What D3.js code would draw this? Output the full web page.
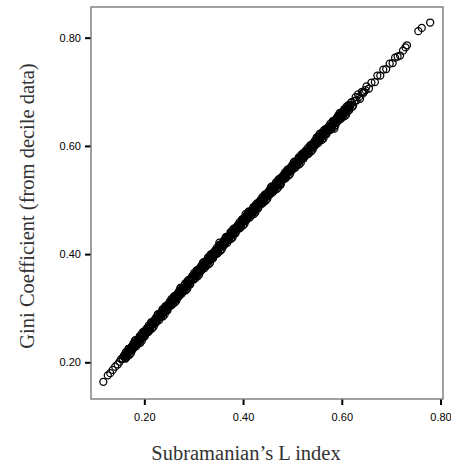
<!DOCTYPE html>
<html>
<head>
<meta charset="utf-8">
<script src="https://cdn.jsdelivr.net/npm/d3@7"></script>
<style>
  body { margin: 0; background: #fff; }
  .tick text { font-family: "Liberation Sans", Arial, sans-serif; font-size: 11px; fill: #000; }
  .title { font-family: "Liberation Serif", "Times New Roman", serif; font-size: 20.5px; fill: #333; }
</style>
</head>
<body>
<div id="chart"></div>
<script>
// dimensions and margins of the graph
var margin = { top: 7, right: 8, bottom: 71, left: 91 },
    width = 451 - margin.left - margin.right,
    height = 470 - margin.top - margin.bottom;

// tick values on both axes
var xTicks = [0.20, 0.40, 0.60, 0.80];
var yTicks = [0.20, 0.40, 0.60, 0.80];

// [Subramanian's L index, Gini coefficient from decile data]
var lowTail = [
  [0.117, 0.164], [0.126, 0.176], [0.131, 0.180], [0.136, 0.186], [0.141, 0.192],
  [0.146, 0.196], [0.150, 0.201], [0.153, 0.206], [0.156, 0.207], [0.158, 0.211]
];

var mainBand = [
  [0.160, 0.214], [0.162, 0.207], [0.164, 0.216], [0.166, 0.215], [0.168, 0.225],
  [0.170, 0.214], [0.172, 0.226], [0.174, 0.225], [0.176, 0.223], [0.178, 0.235],
  [0.180, 0.231], [0.182, 0.241], [0.184, 0.230], [0.186, 0.240], [0.188, 0.237],
  [0.190, 0.246], [0.192, 0.236], [0.194, 0.247], [0.196, 0.255], [0.198, 0.249],
  [0.200, 0.248], [0.202, 0.258], [0.204, 0.257], [0.206, 0.263], [0.208, 0.256],
  [0.210, 0.264], [0.212, 0.263], [0.214, 0.274], [0.216, 0.263], [0.218, 0.275],
  [0.220, 0.274], [0.222, 0.272], [0.224, 0.283], [0.226, 0.279], [0.228, 0.289],
  [0.230, 0.278], [0.232, 0.289], [0.234, 0.285], [0.236, 0.295], [0.238, 0.285],
  [0.240, 0.296], [0.242, 0.303], [0.244, 0.297], [0.246, 0.296], [0.248, 0.306],
  [0.250, 0.306], [0.252, 0.312], [0.254, 0.305], [0.256, 0.313], [0.258, 0.312],
  [0.260, 0.322], [0.262, 0.311], [0.264, 0.323], [0.266, 0.322], [0.268, 0.320],
  [0.270, 0.331], [0.272, 0.327], [0.274, 0.338], [0.276, 0.327], [0.278, 0.337],
  [0.280, 0.334], [0.282, 0.343], [0.284, 0.333], [0.286, 0.344], [0.288, 0.351],
  [0.290, 0.345], [0.292, 0.344], [0.294, 0.354], [0.296, 0.353], [0.298, 0.360],
  [0.300, 0.353], [0.302, 0.361], [0.304, 0.360], [0.306, 0.370], [0.308, 0.359],
  [0.310, 0.371], [0.312, 0.370], [0.314, 0.368], [0.316, 0.379], [0.318, 0.375],
  [0.320, 0.385], [0.322, 0.374], [0.324, 0.385], [0.326, 0.382], [0.328, 0.391],
  [0.330, 0.381], [0.332, 0.392], [0.334, 0.399], [0.336, 0.393], [0.338, 0.392],
  [0.340, 0.402], [0.342, 0.401], [0.344, 0.407], [0.346, 0.400], [0.348, 0.408],
  [0.350, 0.407], [0.352, 0.417], [0.354, 0.406], [0.356, 0.418], [0.358, 0.417],
  [0.360, 0.415], [0.362, 0.426], [0.364, 0.422], [0.366, 0.432], [0.368, 0.421],
  [0.370, 0.432], [0.372, 0.428], [0.374, 0.438], [0.376, 0.428], [0.378, 0.439],
  [0.380, 0.446], [0.382, 0.440], [0.384, 0.439], [0.386, 0.449], [0.388, 0.448],
  [0.390, 0.454], [0.392, 0.447], [0.394, 0.455], [0.396, 0.454], [0.398, 0.464],
  [0.400, 0.453], [0.402, 0.465], [0.404, 0.464], [0.406, 0.462], [0.408, 0.473],
  [0.410, 0.469], [0.412, 0.479], [0.414, 0.468], [0.416, 0.478], [0.418, 0.475],
  [0.420, 0.484], [0.422, 0.474], [0.424, 0.485], [0.426, 0.492], [0.428, 0.486],
  [0.430, 0.485], [0.432, 0.495], [0.434, 0.494], [0.436, 0.500], [0.438, 0.493],
  [0.440, 0.501], [0.442, 0.500], [0.444, 0.510], [0.446, 0.499], [0.448, 0.511],
  [0.450, 0.510], [0.452, 0.508], [0.454, 0.519], [0.456, 0.515], [0.458, 0.525],
  [0.460, 0.514], [0.462, 0.524], [0.464, 0.521], [0.466, 0.530], [0.468, 0.520],
  [0.470, 0.531], [0.472, 0.538], [0.474, 0.532], [0.476, 0.531], [0.478, 0.541],
  [0.480, 0.540], [0.482, 0.546], [0.484, 0.539], [0.486, 0.547], [0.488, 0.546],
  [0.490, 0.556], [0.492, 0.545], [0.494, 0.557], [0.496, 0.556], [0.498, 0.554],
  [0.500, 0.565], [0.502, 0.561], [0.504, 0.571], [0.506, 0.560], [0.508, 0.570],
  [0.510, 0.567], [0.512, 0.576], [0.514, 0.566], [0.516, 0.577], [0.518, 0.584],
  [0.520, 0.578], [0.522, 0.577], [0.524, 0.587], [0.526, 0.586], [0.528, 0.591],
  [0.530, 0.584], [0.532, 0.592], [0.534, 0.591], [0.536, 0.601], [0.538, 0.590],
  [0.540, 0.602], [0.542, 0.601], [0.544, 0.599], [0.546, 0.610], [0.548, 0.606],
  [0.550, 0.616], [0.552, 0.605], [0.554, 0.615], [0.556, 0.612], [0.558, 0.621],
  [0.560, 0.611], [0.562, 0.622], [0.564, 0.629], [0.566, 0.622], [0.568, 0.622],
  [0.570, 0.632], [0.572, 0.630], [0.574, 0.636], [0.576, 0.629], [0.578, 0.637],
  [0.580, 0.636], [0.582, 0.646], [0.584, 0.635], [0.586, 0.647], [0.588, 0.646],
  [0.590, 0.644], [0.592, 0.655], [0.594, 0.651], [0.596, 0.661], [0.598, 0.650],
  [0.600, 0.659], [0.602, 0.656], [0.604, 0.665], [0.606, 0.655], [0.608, 0.666],
  [0.610, 0.673], [0.612, 0.667], [0.614, 0.666], [0.616, 0.676], [0.618, 0.675]
];

var mainBandOdd = [
  [0.161, 0.208], [0.163, 0.219], [0.165, 0.210], [0.167, 0.220], [0.169, 0.225],
  [0.171, 0.221], [0.173, 0.217], [0.175, 0.230], [0.177, 0.229], [0.179, 0.227],
  [0.181, 0.240], [0.183, 0.233], [0.185, 0.240], [0.187, 0.234], [0.189, 0.241],
  [0.191, 0.249], [0.193, 0.242], [0.195, 0.240], [0.197, 0.252], [0.199, 0.257],
  [0.201, 0.248], [0.203, 0.257], [0.205, 0.262], [0.207, 0.257], [0.209, 0.268],
  [0.211, 0.259], [0.213, 0.269], [0.215, 0.274], [0.217, 0.270], [0.219, 0.266],
  [0.221, 0.279], [0.223, 0.278], [0.225, 0.275], [0.227, 0.288], [0.229, 0.282],
  [0.231, 0.289], [0.233, 0.283], [0.235, 0.290], [0.237, 0.298], [0.239, 0.291],
  [0.241, 0.288], [0.243, 0.300], [0.245, 0.305], [0.247, 0.296], [0.249, 0.306],
  [0.251, 0.311], [0.253, 0.306], [0.255, 0.317], [0.257, 0.307], [0.259, 0.317],
  [0.261, 0.322], [0.263, 0.318], [0.265, 0.314], [0.267, 0.327], [0.269, 0.326],
  [0.271, 0.323], [0.273, 0.337], [0.275, 0.329], [0.277, 0.337], [0.279, 0.331],
  [0.281, 0.338], [0.283, 0.346], [0.285, 0.339], [0.287, 0.336], [0.289, 0.348],
  [0.291, 0.353], [0.293, 0.344], [0.295, 0.353], [0.297, 0.359], [0.299, 0.354],
  [0.301, 0.365], [0.303, 0.355], [0.305, 0.365], [0.307, 0.370], [0.309, 0.366],
  [0.311, 0.362], [0.313, 0.375], [0.315, 0.374], [0.317, 0.371], [0.319, 0.384],
  [0.321, 0.377], [0.323, 0.384], [0.325, 0.378], [0.327, 0.386], [0.329, 0.394],
  [0.331, 0.387], [0.333, 0.384], [0.335, 0.396], [0.337, 0.401], [0.339, 0.392],
  [0.341, 0.401], [0.343, 0.406], [0.345, 0.401], [0.347, 0.412], [0.349, 0.402],
  [0.351, 0.412], [0.353, 0.417], [0.355, 0.413], [0.357, 0.409], [0.359, 0.422],
  [0.361, 0.421], [0.363, 0.418], [0.365, 0.431], [0.367, 0.424], [0.369, 0.431],
  [0.371, 0.426], [0.373, 0.433], [0.375, 0.441], [0.377, 0.434], [0.379, 0.431],
  [0.381, 0.443], [0.383, 0.448], [0.385, 0.439], [0.387, 0.448], [0.389, 0.453],
  [0.391, 0.448], [0.393, 0.459], [0.395, 0.449], [0.397, 0.459], [0.399, 0.464],
  [0.401, 0.460], [0.403, 0.456], [0.405, 0.469], [0.407, 0.468], [0.409, 0.465],
  [0.411, 0.478], [0.413, 0.471], [0.415, 0.478], [0.417, 0.472], [0.419, 0.479],
  [0.421, 0.487], [0.423, 0.480], [0.425, 0.477], [0.427, 0.489], [0.429, 0.494],
  [0.431, 0.485], [0.433, 0.494], [0.435, 0.499], [0.437, 0.494], [0.439, 0.505],
  [0.441, 0.495], [0.443, 0.505], [0.445, 0.510], [0.447, 0.506], [0.449, 0.502],
  [0.451, 0.515], [0.453, 0.514], [0.455, 0.511], [0.457, 0.524], [0.459, 0.517],
  [0.461, 0.524], [0.463, 0.518], [0.465, 0.525], [0.467, 0.533], [0.469, 0.526],
  [0.471, 0.523], [0.473, 0.535], [0.475, 0.540], [0.477, 0.531], [0.479, 0.540],
  [0.481, 0.545], [0.483, 0.540], [0.485, 0.551], [0.487, 0.541], [0.489, 0.551],
  [0.491, 0.556], [0.493, 0.552], [0.495, 0.548], [0.497, 0.561], [0.499, 0.560],
  [0.501, 0.557], [0.503, 0.570], [0.505, 0.563], [0.507, 0.570], [0.509, 0.564],
  [0.511, 0.571], [0.513, 0.579], [0.515, 0.572], [0.517, 0.569], [0.519, 0.581],
  [0.521, 0.586], [0.523, 0.577], [0.525, 0.586], [0.527, 0.591], [0.529, 0.585],
  [0.531, 0.596], [0.533, 0.586], [0.535, 0.596], [0.537, 0.601], [0.539, 0.597],
  [0.541, 0.593], [0.543, 0.606], [0.545, 0.605], [0.547, 0.602], [0.549, 0.615],
  [0.551, 0.608], [0.553, 0.615], [0.555, 0.609], [0.557, 0.616], [0.559, 0.624],
  [0.561, 0.617], [0.563, 0.614], [0.565, 0.626], [0.567, 0.631], [0.569, 0.622],
  [0.571, 0.631], [0.573, 0.635], [0.575, 0.630], [0.577, 0.641], [0.579, 0.631],
  [0.581, 0.641], [0.583, 0.646], [0.585, 0.642], [0.587, 0.638], [0.589, 0.651],
  [0.591, 0.650], [0.593, 0.647], [0.595, 0.659], [0.597, 0.652], [0.599, 0.660],
  [0.601, 0.653], [0.603, 0.660], [0.605, 0.668], [0.607, 0.661], [0.609, 0.658],
  [0.611, 0.670], [0.613, 0.675], [0.615, 0.666], [0.617, 0.675], [0.619, 0.680]
];

var bandCore = [
  [0.1605, 0.212], [0.1635, 0.212], [0.1665, 0.220], [0.1705, 0.220], [0.1735, 0.225], [0.1765, 0.230],
  [0.1805, 0.229], [0.1835, 0.236], [0.1865, 0.237], [0.1905, 0.243], [0.1935, 0.249], [0.1965, 0.248],
  [0.2005, 0.254], [0.2035, 0.255], [0.2065, 0.263], [0.2105, 0.263], [0.2135, 0.267], [0.2165, 0.272],
  [0.2205, 0.272], [0.2235, 0.279], [0.2265, 0.279], [0.2305, 0.285], [0.2335, 0.291], [0.2365, 0.290],
  [0.2405, 0.297], [0.2435, 0.297], [0.2465, 0.305], [0.2505, 0.305], [0.2535, 0.309], [0.2565, 0.314],
  [0.2605, 0.314], [0.2635, 0.321], [0.2665, 0.321], [0.2705, 0.327], [0.2735, 0.333], [0.2765, 0.332],
  [0.2805, 0.338], [0.2835, 0.338], [0.2865, 0.347], [0.2905, 0.347], [0.2935, 0.351], [0.2965, 0.356],
  [0.3005, 0.355], [0.3035, 0.362], [0.3065, 0.362], [0.3105, 0.368], [0.3135, 0.375], [0.3165, 0.374],
  [0.3205, 0.380], [0.3235, 0.380], [0.3265, 0.388], [0.3305, 0.388], [0.3335, 0.392], [0.3365, 0.397],
  [0.3405, 0.396], [0.3435, 0.403], [0.3465, 0.403], [0.3505, 0.410], [0.3535, 0.416], [0.3565, 0.415],
  [0.3605, 0.421], [0.3635, 0.421], [0.3665, 0.429], [0.3705, 0.429], [0.3735, 0.433], [0.3765, 0.438],
  [0.3805, 0.437], [0.3835, 0.444], [0.3865, 0.444], [0.3905, 0.450], [0.3935, 0.456], [0.3965, 0.455],
  [0.4005, 0.462], [0.4035, 0.462], [0.4065, 0.470], [0.4105, 0.470], [0.4135, 0.474], [0.4165, 0.479],
  [0.4205, 0.478], [0.4235, 0.485], [0.4265, 0.485], [0.4305, 0.491], [0.4335, 0.497], [0.4365, 0.496],
  [0.4405, 0.502], [0.4435, 0.502], [0.4465, 0.510], [0.4505, 0.510], [0.4535, 0.514], [0.4565, 0.519],
  [0.4605, 0.518], [0.4635, 0.525], [0.4665, 0.525], [0.4705, 0.531], [0.4735, 0.537], [0.4765, 0.536],
  [0.4805, 0.542], [0.4835, 0.542], [0.4865, 0.550], [0.4905, 0.550], [0.4935, 0.554], [0.4965, 0.558],
  [0.5005, 0.557], [0.5035, 0.564], [0.5065, 0.564], [0.5105, 0.570], [0.5135, 0.576], [0.5165, 0.575],
  [0.5205, 0.581], [0.5235, 0.581], [0.5265, 0.589], [0.5305, 0.589], [0.5335, 0.593], [0.5365, 0.598],
  [0.5405, 0.597], [0.5435, 0.604], [0.5465, 0.604], [0.5505, 0.610], [0.5535, 0.615], [0.5565, 0.614],
  [0.5605, 0.620], [0.5635, 0.620], [0.5665, 0.628], [0.5705, 0.628], [0.5735, 0.632], [0.5765, 0.637],
  [0.5805, 0.636], [0.5835, 0.643], [0.5865, 0.642], [0.5905, 0.648], [0.5935, 0.654], [0.5965, 0.653],
  [0.6005, 0.659], [0.6035, 0.659], [0.6065, 0.667], [0.6105, 0.667], [0.6135, 0.671], [0.6165, 0.675]
];

var strays = [
  [0.352, 0.421], [0.405, 0.474], [0.476, 0.528], [0.555, 0.622], [0.585, 0.632]
];

var upperTail = [
  [0.620, 0.681], [0.6215, 0.672], [0.623, 0.675], [0.626, 0.683], [0.628, 0.690],
  [0.630, 0.684], [0.633, 0.695], [0.635, 0.690], [0.637, 0.687], [0.641, 0.700],
  [0.643, 0.697], [0.645, 0.700], [0.648, 0.703], [0.650, 0.710], [0.655, 0.706],
  [0.660, 0.717], [0.667, 0.718], [0.672, 0.730], [0.678, 0.730], [0.684, 0.741],
  [0.690, 0.742], [0.697, 0.752], [0.703, 0.753], [0.708, 0.763], [0.713, 0.765],
  [0.718, 0.767], [0.724, 0.776], [0.729, 0.782], [0.732, 0.786],
  [0.755, 0.812], [0.762, 0.818], [0.779, 0.828]
];

var allPoints = lowTail.concat(mainBand, mainBandOdd, bandCore, strays, upperTail);

var svg = d3.select("#chart")
    .append("svg")
    .attr("width", width + margin.left + margin.right)
    .attr("height", height + margin.top + margin.bottom)
    .append("g")
    .attr("transform", "translate(" + margin.left + "," + margin.top + ")");

// X axis
var x = d3.scaleLinear()
    .domain([0.092, 0.805])
    .range([0, width]);

// Y axis
var y = d3.scaleLinear()
    .domain([0.1322, 0.8567])
    .range([height, 0]);

svg.append("g")
    .attr("transform", "translate(0," + height + ")")
    .call(d3.axisBottom(x).tickValues(xTicks).tickFormat(d3.format(".2f")).tickSize(6).tickPadding(8))
    .call(function (g) { g.select(".domain").remove(); })
    .call(function (g) { g.selectAll(".tick line").attr("stroke", "#000").attr("stroke-width", 2); });

svg.append("g")
    .call(d3.axisLeft(y).tickValues(yTicks).tickFormat(d3.format(".2f")).tickSize(6).tickPadding(4))
    .call(function (g) { g.select(".domain").remove(); })
    .call(function (g) { g.selectAll(".tick line").attr("stroke", "#000").attr("stroke-width", 2); });

// frame
svg.append("rect")
    .attr("x", 0)
    .attr("y", 0)
    .attr("width", width)
    .attr("height", height)
    .attr("fill", "none")
    .attr("stroke", "#7a7a7a")
    .attr("stroke-width", 1.4);

// points
svg.append("g")
    .selectAll("circle")
    .data(allPoints)
    .enter()
    .append("circle")
    .attr("cx", function (d) { return x(d[0]); })
    .attr("cy", function (d) { return y(d[1]); })
    .attr("r", 3.5)
    .style("fill", "none")
    .attr("stroke", "black")
    .attr("stroke-width", 1.25);

// axis titles
svg.append("text")
    .attr("class", "title")
    .attr("text-anchor", "middle")
    .attr("x", 246 - margin.left)
    .attr("y", 460 - margin.top)
    .text("Subramanian’s L index");

svg.append("text")
    .attr("class", "title")
    .attr("text-anchor", "middle")
    .attr("transform", "translate(" + (34 - margin.left) + "," + (206 - margin.top) + ") rotate(-90)")
    .text("Gini Coefficient (from decile data)");
</script>
</body>
</html>
